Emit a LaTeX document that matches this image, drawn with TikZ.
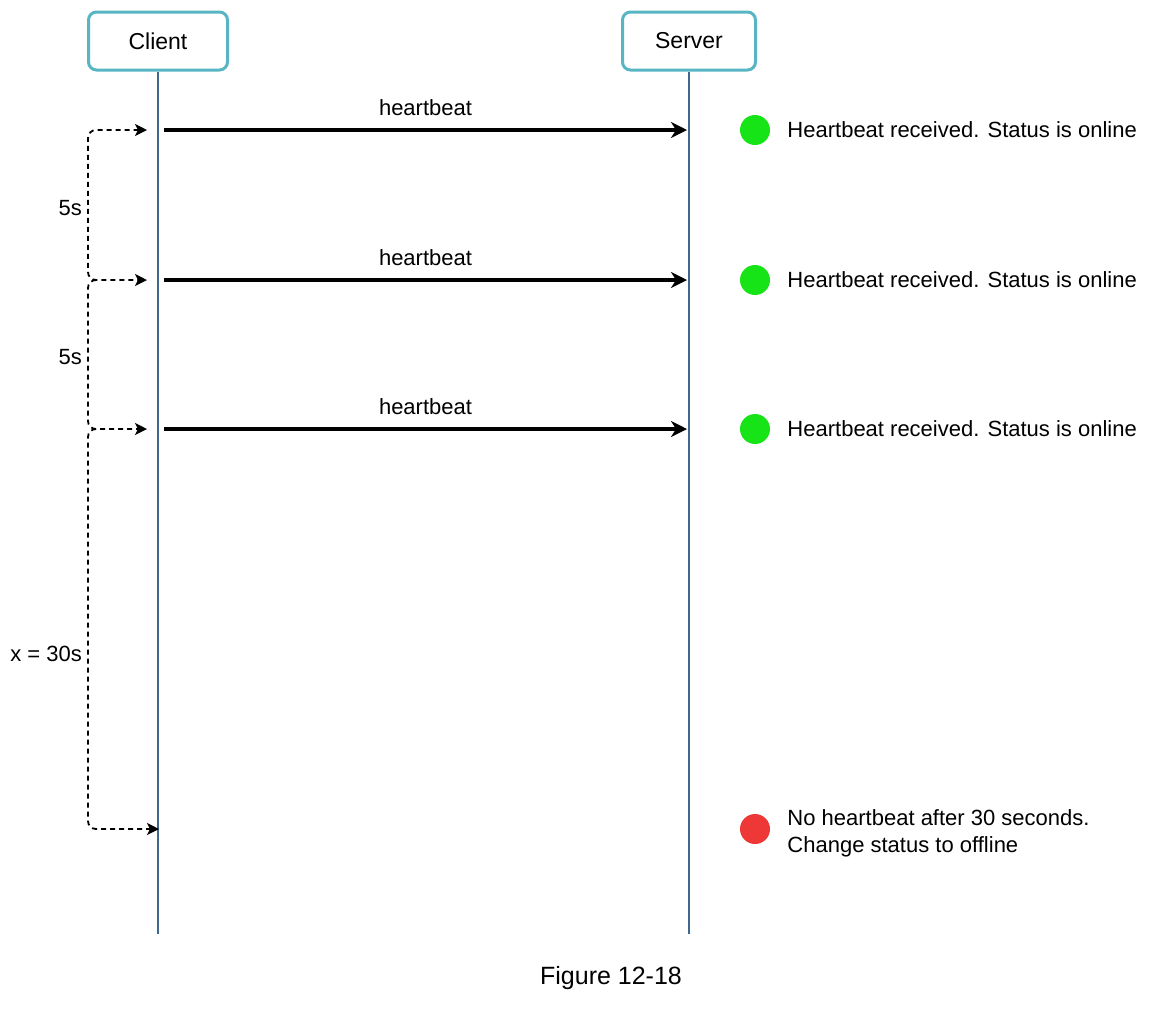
\documentclass[tikz,border=0pt]{standalone}
\usepackage{fontspec}
\setmainfont{Liberation Sans}
\usetikzlibrary{arrows.meta, positioning}
\definecolor{boxline}{RGB}{88,182,196}
\definecolor{lifeblue}{RGB}{62,104,142}
\definecolor{okgreen}{RGB}{22,228,22}
\definecolor{offred}{RGB}{238,56,56}
\tikzstyle{actor} = [rectangle, rounded corners=4pt, minimum height=29pt, text centered, draw=boxline, line width=1.5pt, fill=white, font=\fontsize{11.5}{14}\selectfont]
\tikzstyle{lifeline} = [draw=lifeblue, line width=1.1pt]
\tikzstyle{beat} = [line width=1.7pt, >={Stealth[length=8pt, width=8pt, inset=2.5pt]}, ->]
\tikzstyle{gap} = [dash pattern=on 2.5pt off 2pt, line width=0.9pt, rounded corners=4pt, >={Stealth[length=6pt, width=6pt, inset=1.5pt]}, ->]
\tikzstyle{dot} = [circle, minimum size=15pt, inner sep=0pt]
\tikzstyle{status} = [align=left, anchor=west]

\begin{document}
\begin{tikzpicture}[x=0.5pt, y=-0.5pt, every node/.style={font=\fontsize{11}{13.5}\selectfont}]
\useasboundingbox (0,0) rectangle (1150,1008);

\node (client) [actor, minimum width=69.5pt] at (158,41) {Client};
\node (server) [actor, minimum width=66.5pt] at (689,41) {Server};

\coordinate (bottom) at (0,934);
\draw [lifeline] (client.south) -- (client.south |- bottom);
\draw [lifeline] (server.south) -- (server.south |- bottom);

% heartbeats
\foreach \y [count=\i] in {130,280,429} {
  \coordinate (c\i) at (164,\y);
  \coordinate (s\i) at (687,\y);
  \draw [beat] (c\i) -- node[above=3pt] {heartbeat} (s\i);
  \node (on\i) [dot, fill=okgreen] at (755,\y) {};
  \node (msg\i) [status, right=5pt of on\i] {Heartbeat received. Status is online};
}

\node (off) [dot, fill=offred] at (755,829) {};
\node (offmsg) [status, right=5pt of off, yshift=-2pt] {No heartbeat after 30 seconds.\\Change status to offline};

% intervals
\coordinate (g1) at (147,130);
\coordinate (g2) at (147,280);
\coordinate (g3) at (147,429);
\coordinate (g4) at (159,829);
\draw [gap, <->] (g1) -| (88,280) -- (g2);
\draw [gap] (96,280) -| (88,429) -- (g3);
\draw [gap] (96,429) -| (88,829) -- (g4);

\node (five1) [left] at (89,208) {5s};
\node (five2) [left] at (89,357) {5s};
\node (thirty) [left] at (89,654) {x = 30s};

\node (caption) [font=\fontsize{12.5}{15}\selectfont] at (611,978) {Figure 12-18};

\end{tikzpicture}
\end{document}
